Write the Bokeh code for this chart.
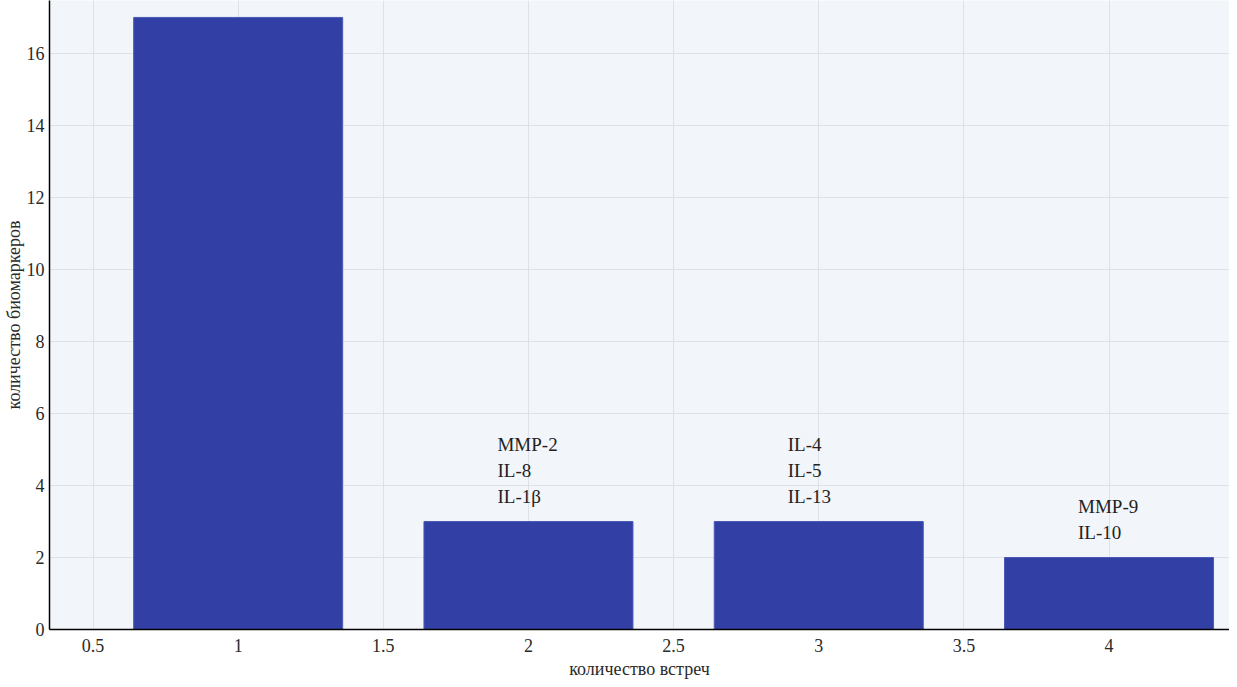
from bokeh.plotting import figure
from bokeh.models import ColumnDataSource, Range1d, FixedTicker
from bokeh.core.properties import value
from bokeh.embed import file_html
from bokeh.resources import INLINE

meetings = [1, 2, 3, 4]
counts = [17, 3, 3, 2]
labels = ["", "MMP-2\nIL-8\nIL-1β", "IL-4\nIL-5\nIL-13", "MMP-9\nIL-10"]
x_ticks = [0.5, 1, 1.5, 2, 2.5, 3, 3.5, 4]
y_ticks = [0, 2, 4, 6, 8, 10, 12, 14, 16]

FONT = "Liberation Serif"

src = ColumnDataSource(dict(x=meetings, top=counts, label=labels))

p = figure(width=1229, height=683, output_backend="svg", toolbar_location=None,
           x_range=Range1d(0.35, 4.415), y_range=Range1d(0, 17.47),
           min_border_left=42, min_border_right=0, min_border_top=0, min_border_bottom=54,
           background_fill_color="#f2f5fa", border_fill_color="white")
p.outline_line_color = None

p.vbar(x="x", top="top", width=0.72, source=src, fill_color="#3240a6",
       line_color="#4b5ab5", line_width=1)

p.text(x="x", y="top", text="label", source=src, text_align="left",
       text_baseline="bottom", x_offset=-31, y_offset=-14,
       text_font=value(FONT), text_font_size="19px", text_color="#222222",
       text_line_height=1.25)

p.xaxis.ticker = FixedTicker(ticks=x_ticks)
p.yaxis.ticker = FixedTicker(ticks=y_ticks)
p.xaxis.major_label_overrides = {0.5: "0.5", 1: "1", 1.5: "1.5", 2: "2", 2.5: "2.5",
                                 3: "3", 3.5: "3.5", 4: "4"}
for ax in (p.xaxis, p.yaxis):
    ax.axis_line_color = "black"
    ax.axis_line_width = 1.5
    ax.major_tick_line_color = None
    ax.minor_tick_line_color = None
    ax.major_tick_out = 0
    ax.major_tick_in = 0
    ax.major_label_text_font = FONT
    ax.major_label_text_font_size = "18px"
    ax.major_label_text_color = "#2a2a2a"
    ax.axis_label_text_font = FONT
    ax.axis_label_text_font_size = "18px"
    ax.axis_label_text_font_style = "normal"
    ax.axis_label_text_color = "#2a2a2a"
p.xaxis.axis_label = "количество встреч"
p.yaxis.axis_label = "количество биомаркеров"
p.xaxis.major_label_standoff = 9
p.xaxis.axis_label_standoff = 4
p.yaxis.major_label_standoff = 5
p.yaxis.axis_label_standoff = 0

p.grid.grid_line_color = "#dde2ea"
p.grid.grid_line_width = 1

open("out.html", "w").write(file_html(p, INLINE))
